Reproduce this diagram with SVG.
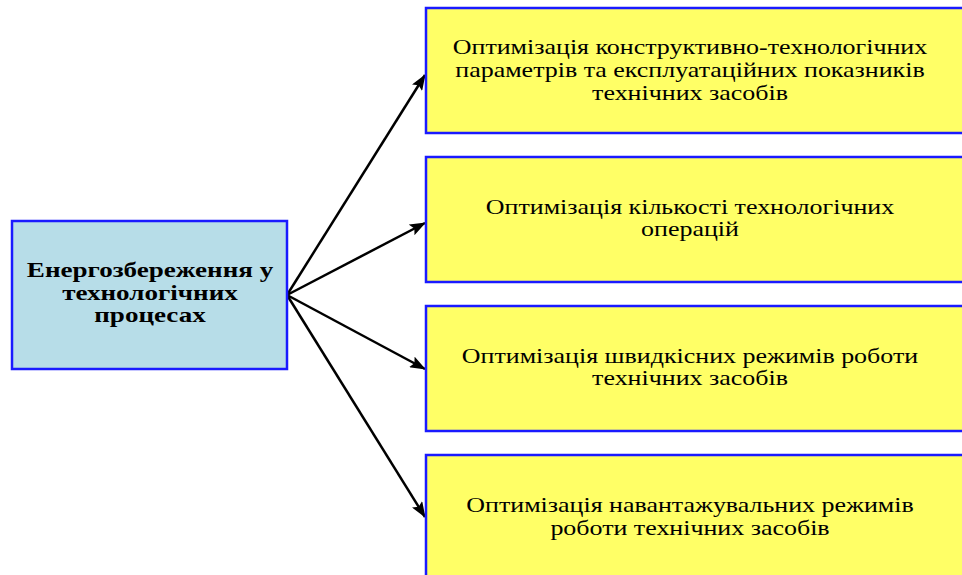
<svg xmlns="http://www.w3.org/2000/svg" width="962" height="575" viewBox="0 0 962 575">
  <style>
    .src { fill: #b7dde8; stroke: #1a1aff; stroke-width: 2.5; }
    .dst { fill: #ffff66; stroke: #1a1aff; stroke-width: 2.5; }
    .t { font-family: "Liberation Serif", "Times New Roman", serif; font-size: 22px; fill: #000; text-anchor: middle; }
    .b { font-weight: bold; }
    .edge { stroke: #000; stroke-width: 2.5; fill: none; marker-end: url(#arrow); }
  </style>
  <defs>
    <marker id="arrow" viewBox="0 0 16 12" refX="15" refY="6" markerWidth="16" markerHeight="12" markerUnits="userSpaceOnUse" orient="auto">
      <path d="M0,0 L16,6 L0,12 L3,6 Z" fill="#000"/>
    </marker>
  </defs>

  <g id="connectors">
    <line class="edge" x1="287" y1="295" x2="425" y2="75"/>
    <line class="edge" x1="287" y1="295" x2="425" y2="223"/>
    <line class="edge" x1="287" y1="295" x2="425" y2="369"/>
    <line class="edge" x1="287" y1="295" x2="425" y2="517"/>
  </g>

  <g id="energy-saving">
    <rect class="src" x="12" y="221" width="275" height="148"/>
    <g transform="translate(150,0) scale(1.23,1)">
      <text class="t b" x="0" y="277">Енергозбереження у</text>
      <text class="t b" x="0" y="300">технологічних</text>
      <text class="t b" x="0" y="322">процесах</text>
    </g>
  </g>

  <g id="opt-parameters">
    <rect class="dst" x="426" y="8" width="545" height="125"/>
    <g transform="translate(690,0) scale(1.18,1)">
      <text class="t" x="0" y="54">Оптимізація конструктивно-технологічних</text>
      <text class="t" x="0" y="77">параметрів та експлуатаційних показників</text>
      <text class="t" x="0" y="100">технічних засобів</text>
    </g>
  </g>

  <g id="opt-operations">
    <rect class="dst" x="426" y="157" width="545" height="125"/>
    <g transform="translate(690,0) scale(1.18,1)">
      <text class="t" x="0" y="214">Оптимізація кількості технологічних</text>
      <text class="t" x="0" y="236">операцій</text>
    </g>
  </g>

  <g id="opt-speed">
    <rect class="dst" x="426" y="306" width="545" height="125"/>
    <g transform="translate(690,0) scale(1.18,1)">
      <text class="t" x="0" y="363">Оптимізація швидкісних режимів роботи</text>
      <text class="t" x="0" y="385">технічних засобів</text>
    </g>
  </g>

  <g id="opt-load">
    <rect class="dst" x="426" y="455" width="545" height="130"/>
    <g transform="translate(690,0) scale(1.18,1)">
      <text class="t" x="0" y="512">Оптимізація навантажувальних режимів</text>
      <text class="t" x="0" y="535">роботи технічних засобів</text>
    </g>
  </g>
</svg>
